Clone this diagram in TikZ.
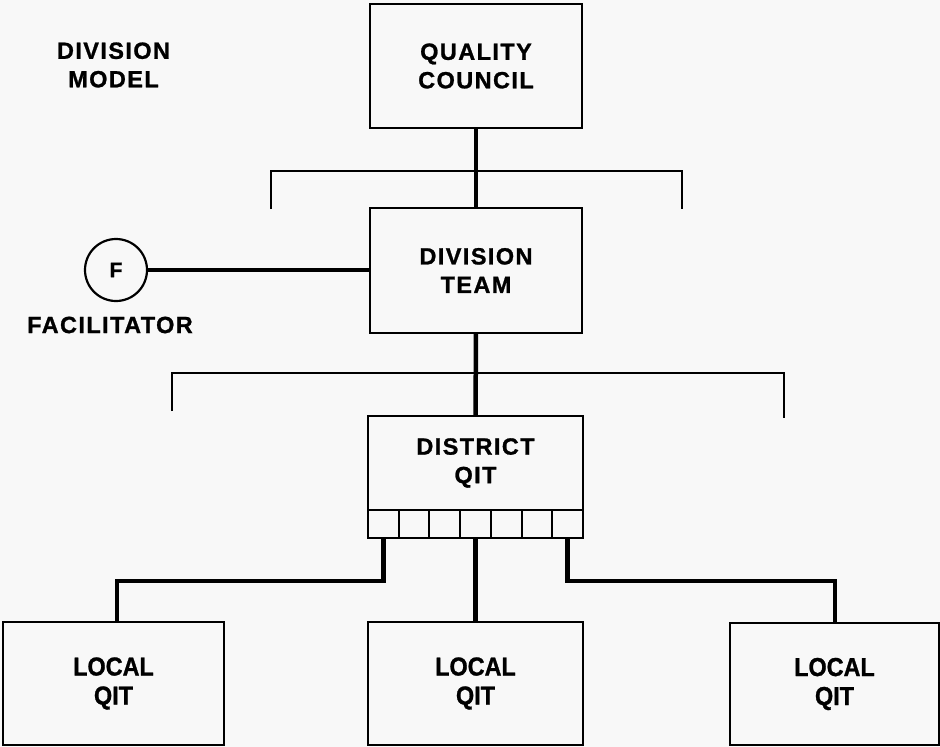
\documentclass[tikz,border=0pt]{standalone}
\usepackage{fontspec}
\setmainfont{Liberation Sans}
\newfontfamily\lblfont{Liberation Sans}[LetterSpace=6, FakeBold=1]
\newfontfamily\locfont{Liberation Sans}[FakeStretch=0.9, FakeBold=1]
\definecolor{paper}{RGB}{248,248,248}
\begin{document}
\begin{tikzpicture}[x=1pt,y=-1pt, outer sep=0pt,
  box/.style={draw, line width=2.4pt, inner sep=0pt, align=center,
    font=\lblfont\bfseries\fontsize{23.5}{28.5}\selectfont},
  cell/.style={draw, line width=2pt, minimum width=30.7pt, minimum height=28pt,
    inner sep=0pt, anchor=north west},
  localbox/.style={box, font=\locfont\bfseries\fontsize{26}{29}\selectfont},
  link/.style={line width=4.5pt},
  bracket/.style={line width=2.6pt},
  label/.style={align=center, inner sep=0pt,
    font=\lblfont\bfseries\fontsize{23.5}{28.5}\selectfont}]

\useasboundingbox[fill=paper] (0,0) rectangle (940,747);

% main chain of boxes
\node[box, minimum width=212pt, minimum height=124pt] (qc) at (476,66) {QUALITY\\COUNCIL};
\node[box, minimum width=212pt, minimum height=125pt] (dt) at (476,270.5) {DIVISION\\TEAM};
\node[box, minimum width=215pt, minimum height=94pt] (dq) at (475.5,463) {DISTRICT\\QIT};

% row of cells under the district team
\node[cell] (c1) at (dq.south west) {};
\node[cell] (c2) at (c1.north east) {};
\node[cell] (c3) at (c2.north east) {};
\node[cell] (c4) at (c3.north east) {};
\node[cell] (c5) at (c4.north east) {};
\node[cell] (c6) at (c5.north east) {};
\node[cell] (c7) at (c6.north east) {};

% local teams
\node[localbox, minimum width=221pt, minimum height=123pt] (L1) at (113.5,683.5) {LOCAL\\QIT};
\node[localbox, minimum width=215pt, minimum height=123pt] (L2) at (475.5,683.5) {LOCAL\\QIT};
\node[localbox, minimum width=209pt, minimum height=122pt] (L3) at (834.5,684) {LOCAL\\QIT};

% facilitator
\node[draw, circle, line width=2.2pt, minimum size=62pt, inner sep=0pt,
  font=\lblfont\bfseries\fontsize{21}{21}\selectfont] (fac) at (116,270) {F};
\node[label] (faclabel) at (110,325) {FACILITATOR};
\node[label] (model) at (113.5,65) {DIVISION\\MODEL};

% connectors
\draw[link] (qc.south) -- (dt.north);
\draw[link] (dt.south) -- (dq.north);
\draw[line width=3.5pt] (fac.east) -- (fac.east -| dt.west);

\coordinate (j1) at (117,581);
\coordinate (j3) at (835,581);
\draw[link] (c1.south) |- (j1) -- (j1 |- L1.north);
\draw[link] (c4.south) -- (c4.south |- L2.north);
\draw[link] (c7.south) |- (j3) -- (j3 |- L3.north);

% brackets
\coordinate (u1) at (271,209);
\coordinate (u2) at (271,171);
\coordinate (u3) at (682,171);
\coordinate (u4) at (682,209);
\draw[bracket] (u1) -- (u2) -- (u3) -- (u4);

\coordinate (v1) at (172,411);
\coordinate (v2) at (172,373);
\coordinate (v3) at (784,373);
\coordinate (v4) at (784,418);
\draw[bracket] (v1) -- (v2) -- (v3) -- (v4);
\end{tikzpicture}
\end{document}
